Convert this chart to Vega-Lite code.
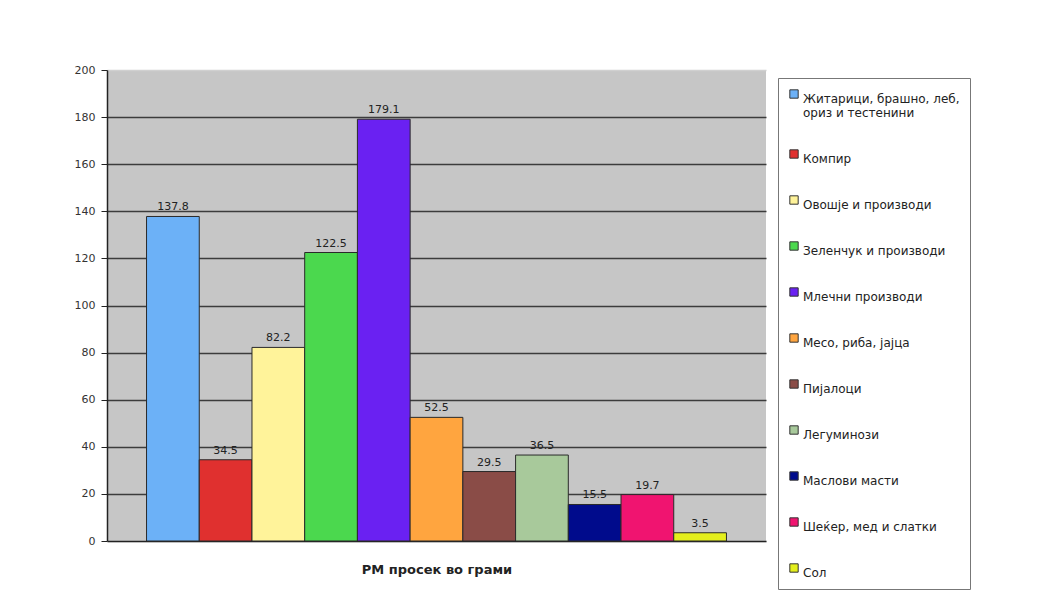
{
  "$schema": "https://vega.github.io/schema/vega-lite/v6.json",
  "width": 659,
  "height": 471,
  "autosize": {"type": "none"},
  "padding": {"left": 107, "top": 70, "right": 277, "bottom": 58},
  "background": "white",
  "data": {
    "values": [
      {"group": "Житарици, брашно, леб, ориз и тестенини", "grams": 137.8},
      {"group": "Компир", "grams": 34.5},
      {"group": "Овошје и производи", "grams": 82.2},
      {"group": "Зеленчук и производи", "grams": 122.5},
      {"group": "Млечни производи", "grams": 179.1},
      {"group": "Месо, риба, јајца", "grams": 52.5},
      {"group": "Пијалоци", "grams": 29.5},
      {"group": "Легуминози", "grams": 36.5},
      {"group": "Маслови масти", "grams": 15.5},
      {"group": "Шеќер, мед и слатки", "grams": 19.7},
      {"group": "Сол", "grams": 3.5}
    ]
  },
  "encoding": {
    "x": {
      "field": "group",
      "type": "nominal",
      "sort": null,
      "scale": {"paddingInner": 0, "paddingOuter": 0.75},
      "axis": {
        "title": "РМ просек во грами",
        "labels": false,
        "ticks": false,
        "domainColor": "#222",
        "domainWidth": 1.5,
        "titleFontSize": 13,
        "titleFontWeight": "bold",
        "titleColor": "#222",
        "titlePadding": 22
      }
    },
    "y": {
      "field": "grams",
      "type": "quantitative",
      "scale": {"domain": [0, 200]},
      "axis": {
        "title": null,
        "values": [0, 20, 40, 60, 80, 100, 120, 140, 160, 180, 200],
        "grid": true,
        "gridColor": {"condition": {"test": "datum.value === 200 || datum.value === 0", "value": "#d0d0d0"}, "value": "#3c3c3c"},
        "gridWidth": 1.5,
        "domainColor": "#222",
        "domainWidth": 1.5,
        "tickColor": "#222",
        "tickSize": 6,
        "labelPadding": 6,
        "labelFontSize": 11,
        "labelColor": "#333"
      }
    }
  },
  "layer": [
    {
      "mark": {"type": "bar", "stroke": "#2a2a2a", "strokeWidth": 1},
      "encoding": {
        "color": {
          "field": "group",
          "type": "nominal",
          "sort": null,
          "scale": {
            "range": ["#6cb1f7", "#e0302f", "#fff39a", "#4bd84e", "#6a21f2", "#ffa53f", "#8a4c47", "#a8c99b", "#000b8c", "#f01470", "#e4ef1c"]
          },
          "legend": {
            "title": null,
            "orient": "none",
            "legendX": 671,
            "legendY": 8,
            "direction": "vertical",
            "symbolType": "square",
            "symbolSize": 70,
            "symbolStrokeColor": "#333",
            "symbolStrokeWidth": 1,
            "labelFontSize": 12,
            "labelColor": "#222",
            "labelLimit": 240,
            "labelOffset": 3,
            "labelBaseline": "top",
            "labelExpr": "datum.label === 'Житарици, брашно, леб, ориз и тестенини' ? ['Житарици, брашно, леб,', '  ориз и тестенини'] : datum.label",
            "rowPadding": 28,
            "padding": 10,
            "strokeColor": "#777",
            "fillColor": "white"
          }
        }
      }
    },
    {
      "mark": {"type": "text", "dy": -9, "fontSize": 11, "color": "#222"},
      "encoding": {
        "text": {"field": "grams", "type": "quantitative", "format": ".1f"}
      }
    }
  ],
  "config": {
    "font": "DejaVu Sans",
    "view": {"fill": "#c6c6c6", "stroke": null}
  }
}
